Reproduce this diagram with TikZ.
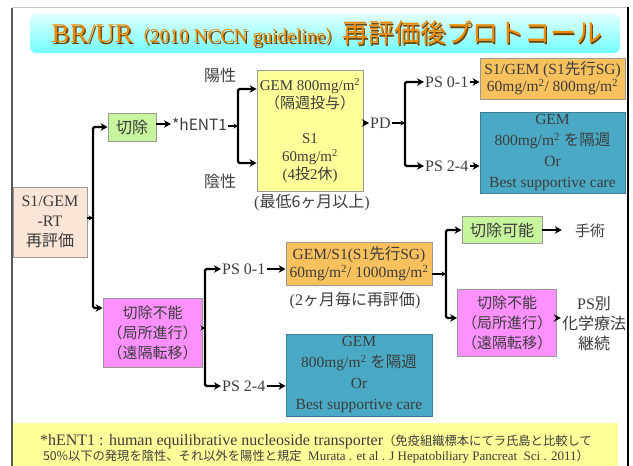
\documentclass[tikz,border=0pt]{standalone}
\usepackage{fontspec}
\setmainfont{Liberation Serif}
\newfontfamily\jp{Noto Sans CJK JP}
\usetikzlibrary{arrows.meta}
\definecolor{peach}{HTML}{FBE5D6}
\definecolor{grn}{HTML}{C6F59E}
\definecolor{yel}{HTML}{FFFF99}
\definecolor{org}{HTML}{F9C05E}
\definecolor{blu}{HTML}{4AAAC5}
\definecolor{mag}{HTML}{FF90FF}
\definecolor{txt}{HTML}{3C3C3C}
\definecolor{boxline}{HTML}{9A9A9A}
\definecolor{bluline}{HTML}{3A7F92}
\definecolor{ttl}{HTML}{EE8A00}
\definecolor{ttlsh}{HTML}{6E4200}
\newcommand{\fsz}[2]{\fontsize{#1}{#2}\selectfont}
\newcommand{\sq}{\textsuperscript{2}}
\newcommand{\ttltext}{{\fsz{27}{27}BR/UR}{\jp\fsz{17}{17}（}{\fsz{19.5}{19.5}2010 NCCN guideline}{\jp\fsz{17}{17}）}{\jp\fsz{26}{26}再評価後プロトコール}}
\begin{document}
\begin{tikzpicture}[x=1pt,y=-1pt,
  box/.style={draw=boxline, line width=0.8pt, align=center, inner sep=0pt, text=txt},
  lbl/.style={inner sep=1pt, text=txt, align=center},
  arr/.style={line width=2.2pt, rounded corners=1.5pt, -{Stealth[length=7pt,width=7.5pt]}},
  sarr/.style={line width=1.6pt, -{Stealth[length=4.5pt,width=5pt]}}]
\useasboundingbox (0,0) rectangle (633,466);
% frame
\draw[gray!45, line width=0.8pt] (12,7) -- (628,7);
\draw[gray!70!black, line width=1.4pt] (12,7.5) -- (12,466);
\draw[black, line width=1.8pt] (628,7) -- (628,466);
% title banner
\shade[top color=cyan!12, bottom color=cyan!55, rounded corners=6pt] (30,14) rectangle (620,53);
\node[text=ttlsh, inner sep=0pt] (titlesh) at (328.4,35.4) {\ttltext};
\node[text=ttl, inner sep=0pt] (title) at (327,34) {\ttltext};
% nodes
\node[box, fill=peach, minimum width=74, minimum height=70, font=\fsz{16}{20}] (s1rt) at (50,222) {S1/GEM\\-RT\\{\jp 再評価}};
\node[box, fill=grn, minimum width=48, minimum height=28, font=\jp\fsz{16}{16}] (kj) at (132,127) {切除};
\node[lbl, font=\jp\fsz{15.5}{16}, anchor=west] (hent) at (171,124) {*hENT1};
\node[lbl, font=\jp\fsz{16}{16}] (pos) at (220,75) {陽性};
\node[lbl, font=\jp\fsz{16}{16}] (neg) at (220,181) {陰性};
\node[box, fill=yel, minimum width=106, minimum height=121, font=\fsz{15}{17.8}] (yel) at (310,130.5)
  {GEM 800mg/m\sq\\{\jp\fsz{15}{17.8}（隔週投与）}\\\mbox{}\\S1\\60mg/m\sq\\(4{\jp 投}2{\jp 休})};
\node[lbl, font=\fsz{16}{16}] (min6) at (312,203) {({\jp 最低6ヶ月以上})};
\node[lbl, font=\fsz{16}{16}, anchor=west] (pd) at (369,123) {PD};
\node[lbl, font=\fsz{16}{16}, anchor=west] (ps01a) at (424,82) {PS 0-1};
\node[lbl, font=\fsz{16}{16}, anchor=west] (ps24a) at (424,166) {PS 2-4};
\node[box, fill=org, minimum width=145, minimum height=41, font=\fsz{15.5}{17}] (or1) at (552.5,78.5)
  {S1/GEM (S1{\jp 先行}SG)\\60mg/m\sq/ 800mg/m\sq};
\node[box, draw=bluline, fill=blu, minimum width=145, minimum height=81, font=\fsz{15.5}{21}] (bl1) at (552.5,152.5)
  {GEM\\800mg/m\sq{} {\jp を隔週}\\Or\\Best supportive care};
% lower
\node[box, fill=mag, minimum width=99, minimum height=69, font=\jp\fsz{15}{20}] (mag1) at (152.5,332.5)
  {切除不能\\（局所進行）\\（遠隔転移）};
\node[lbl, font=\fsz{16}{16}, anchor=west] (ps01b) at (221,269) {PS 0-1};
\node[lbl, font=\fsz{16}{16}, anchor=west] (ps24b) at (221,386) {PS 2-4};
\node[box, fill=org, minimum width=146, minimum height=43, font=\fsz{15.5}{18}] (or2) at (359,263.5)
  {GEM/S1(S1{\jp 先行}SG)\\60mg/m\sq/ 1000mg/m\sq};
\node[lbl, font=\fsz{16}{16}] (m2) at (355,300) {(2{\jp ヶ月毎に再評価})};
\node[box, draw=bluline, fill=blu, minimum width=146, minimum height=82, font=\fsz{15.5}{21}] (bl2) at (359,375)
  {GEM\\800mg/m\sq{} {\jp を隔週}\\Or\\Best supportive care};
\node[box, fill=grn, minimum width=80, minimum height=27, font=\jp\fsz{16}{16}] (kanou) at (502,230) {切除可能};
\node[box, fill=mag, minimum width=99, minimum height=67, font=\jp\fsz{15}{20}] (mag2) at (507,322.5)
  {切除不能\\（局所進行）\\（遠隔転移）};
\node[lbl, font=\jp\fsz{15}{15}] (shu) at (590,231) {手術};
\node[lbl, font=\fsz{16}{20}] (psb) at (594,324) {PS{\jp 別}\\{\jp 化学療法}\\{\jp 継続}};
% footnote
\fill[yel] (13,423) rectangle (618,466);
\node[lbl, text=txt, align=center, font=\fsz{16}{15.5}] (note) at (316,449)
  {*hENT1 : human equilibrative nucleoside transporter{\jp\fsz{12.3}{15.5}（免疫組織標本にてラ氏島と比較して}\\
   {\jp\fsz{12.3}{15.5}50\%以下の発現を陰性、それ以外を陽性と規定}{\fsz{13}{15.5}\ \ Murata . et al . J Hepatobiliary Pancreat\ \ Sci . 2011}{\jp\fsz{12.3}{15.5}）}};
% connectors
\coordinate (j1) at (93,218);
\coordinate (y308) at (0,308);
\draw[arr] (j1) |- (kj.west);
\draw[arr] (j1) |- (mag1.west |- y308);
\draw[sarr] (s1rt.east |- j1) -- (j1);
\draw[arr] (kj.east |- hent.west) -- (hent.west);
\coordinate (j2) at (238,126);
\coordinate (y89) at (0,89);
\coordinate (y163) at (0,163);
\draw[arr] (j2) |- (yel.west |- y89);
\draw[arr] (j2) |- (yel.west |- y163);
\draw[sarr] (hent.east |- j2) -- (j2);
\draw[arr] (yel.east |- pd.west) -- (pd.west);
\coordinate (j3) at (405,123);
\draw[arr] (j3) |- (ps01a.west);
\draw[arr] (j3) |- (ps24a.west);
\draw[sarr] (pd.east) -- (j3);
\draw[arr] (ps01a.east) -- (ps01a.east -| or1.west);
\draw[arr] (ps24a.east) -- (ps24a.east -| bl1.west);
\coordinate (j4) at (205,328);
\draw[arr] (j4) |- (ps01b.west);
\draw[arr] (j4) |- (ps24b.west);
\draw[sarr] (mag1.east |- j4) -- (j4);
\draw[arr] (ps01b.east) -- (ps01b.east -| or2.west);
\draw[arr] (ps24b.east) -- (ps24b.east -| bl2.west);
\coordinate (j5) at (446,274);
\coordinate (y318) at (0,318);
\draw[arr] (j5) |- (kanou.west);
\draw[arr] (j5) |- (mag2.west |- y318);
\draw[sarr] (or2.east |- j5) -- (j5);
\draw[arr, shorten >=12pt] (kanou.east) -- (kanou.east -| shu.west);
\draw[arr] (mag2.east |- y318) -- (psb.west |- y318);
\end{tikzpicture}
\end{document}
